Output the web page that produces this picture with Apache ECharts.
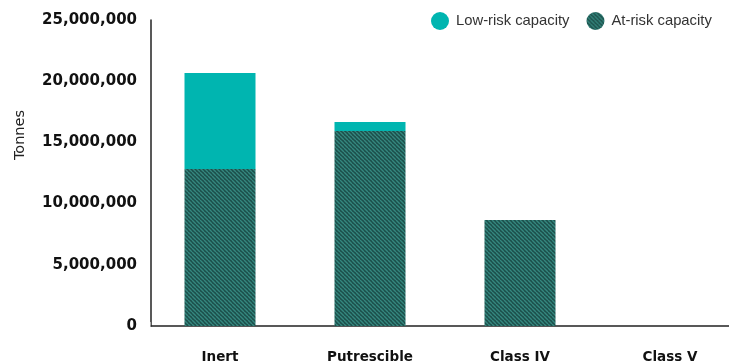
<!DOCTYPE html>
<html><head><meta charset="utf-8">
<script src="https://cdn.jsdelivr.net/npm/echarts@6/dist/echarts.min.js"></script>
<style>html,body{margin:0;padding:0;background:#fff}#c{width:729px;height:363px}</style>
</head><body><div id="c"></div>
<script>
const categories = ['Inert', 'Putrescible', 'Class IV', 'Class V'];
const atRisk = [12830000, 15930000, 8660000, 0];
const lowRisk = [7840000, 740000, 0, 0];
const yTicks = [0, 5000000, 10000000, 15000000, 20000000, 25000000];

function stripePattern() {
  const s = 4;
  const cv = document.createElement('canvas');
  cv.width = s; cv.height = s;
  const g = cv.getContext('2d');
  g.fillStyle = '#1c4f4b';
  g.fillRect(0, 0, s, s);
  g.strokeStyle = '#35877f';
  g.lineWidth = 1.4;
  for (let k = -1; k <= 1; k++) {
    g.beginPath();
    g.moveTo(k * s, 0);
    g.lineTo(k * s + s, s);
    g.stroke();
  }
  return { image: cv, repeat: 'repeat' };
}

const chart = echarts.init(document.getElementById('c'));
chart.setOption({
  animation: false,
  grid: { left: 145, right: -16, top: 20, bottom: 37, containLabel: false, outerBoundsMode: 'none' },
  legend: {
    data: ['Low-risk capacity', 'At-risk capacity'],
    left: 431, top: 12, padding: 0,
    icon: 'circle', itemWidth: 18, itemHeight: 18, itemGap: 17,
    textStyle: { fontFamily: 'Liberation Sans', fontSize: 14.8, color: '#333', padding: [0, 0, 0, 2] }
  },
  graphic: [
    { type: 'text', left: 13, top: 110, rotation: Math.PI / 2,
      style: { text: 'Tonnes', font: '14.5px "DejaVu Sans"', fill: '#222' } },
    { type: 'rect', left: 140, top: 322, shape: { width: 10.5, height: 8 }, style: { fill: '#fff' }, z: 100 }
  ],
  xAxis: {
    type: 'category', data: categories,
    axisLine: { lineStyle: { color: '#222', width: 1.5 } },
    axisTick: { show: false },
    axisLabel: { margin: 24, color: '#111', fontFamily: 'DejaVu Sans', fontWeight: 'bold', fontSize: 13.5 }
  },
  yAxis: {
    type: 'value', min: 0, max: 25000000, interval: 5000000, offset: -6,
    axisLine: { show: true, lineStyle: { color: '#222', width: 1.5 } },
    axisTick: { show: false },
    splitLine: { show: false },
    axisLabel: {
      margin: 14, color: '#111', fontFamily: 'DejaVu Sans', fontWeight: 'bold', fontSize: 15,
      formatter: v => yTicks.includes(v) ? v.toLocaleString('en-US') : ''
    }
  },
  series: [
    { name: 'At-risk capacity', type: 'bar', stack: 't', data: atRisk, barWidth: 71,
      itemStyle: { color: stripePattern() } },
    { name: 'Low-risk capacity', type: 'bar', stack: 't', data: lowRisk, barWidth: 71,
      itemStyle: { color: '#00b5b0' } }
  ]
});
</script></body></html>
